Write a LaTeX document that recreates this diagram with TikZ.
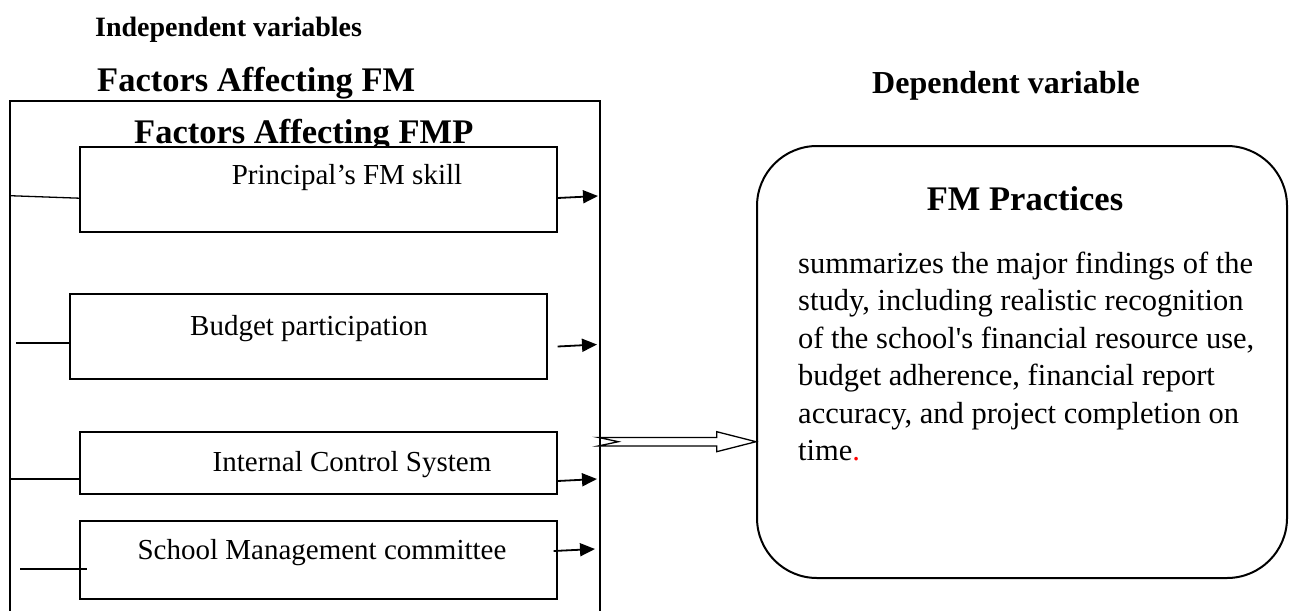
\documentclass[tikz,border=0pt]{standalone}
\usepackage{fontspec}
\setmainfont{Liberation Serif}
\usetikzlibrary{arrows.meta,calc}
\begin{document}
\begin{tikzpicture}[x=1pt,y=-1pt,
  hdr/.style={font=\bfseries\fontsize{34.5}{40}\selectfont, inner sep=0},
  lbl/.style={font=\fontsize{29}{34}\selectfont, inner sep=0, anchor=base},
  body/.style={font=\fontsize{30.5}{36}\selectfont, inner sep=0, anchor=base west},
  fbox/.style={draw, fill=white, line width=1.3, inner sep=0, minimum width=477},
  arr/.style={line width=1.8, -{Triangle[length=15pt,width=13pt]}},
  lin/.style={line width=1.3}]
\useasboundingbox (0,0) rectangle (1289,610);
% headings
\node[font=\bfseries\fontsize{28}{33}\selectfont, inner sep=0, anchor=base west] (iv) at (95,37) {Independent variables};
\node[hdr, anchor=base west] (fam) at (97,91) {Factors Affecting FM};
\node[font=\bfseries\fontsize{32}{37}\selectfont, inner sep=0, anchor=base west] (dv) at (872,93) {Dependent variable};
% outer frame
\node[draw, line width=1.4, minimum width=590, minimum height=540, inner sep=0] (outer) at (305,371) {};
\node[hdr, anchor=base west] (famp) at (134,143) {Factors Affecting FMP};
% factor boxes
\node[fbox, minimum height=85] (p1) at (318.5,189.5) {};
\node[fbox, minimum height=85] (p2) at (308.5,336.5) {};
\node[fbox, minimum height=62] (p3) at (318.5,463) {};
\node[fbox, minimum height=78] (p4) at (318.5,560) {};
\node[lbl] (t1) at (347,184) {Principal’s FM skill};
\node[lbl] (t2) at (309,335) {Budget participation};
\node[lbl] (t3) at (352,471) {Internal Control System};
\node[lbl] (t4) at (322,559) {School Management committee};
% left lines
\coordinate (l1) at (10,195.7);
\coordinate (l2) at (16,343);
\coordinate (l3) at (10,479);
\coordinate (l4) at (20,569);
\draw[lin] (l1) -- ($(p1.west|-l1)+(0,2.5)$);
\draw[lin] (l2) -- (p2.west|-l2);
\draw[lin] (l3) -- (p3.west|-l3);
\draw[lin] (l4) -- ($(p4.west|-l4)+(8,0)$);
% right arrows
\coordinate (r1) at (598,196);
\coordinate (r2) at (597,344.5);
\coordinate (r3) at (597,479);
\coordinate (r4) at (595,549);
\draw[arr] ($(p1.east|-r1)+(0,2)$) -- (r1);
\draw[arr] ($(p2.east|-r2)+(10,2)$) -- (r2);
\draw[arr] ($(p3.east|-r3)+(0,2)$) -- (r3);
\draw[arr] ($(p4.east|-r4)+(-4,2)$) -- (r4);
% dependent box
\node[draw, line width=2, rounded corners=60, minimum width=530, minimum height=432, inner sep=0] (dep) at (1022,362) {};
\node[hdr, anchor=base] (fmp) at (1025,210) {FM Practices};
\node[body] (b1) at (798,273) {summarizes the major findings of the};
\node[body] (b2) at (798,310.5) {study, including realistic recognition};
\node[body] (b3) at (798,348) {of the school\textquotesingle s financial resource use,};
\node[body] (b4) at (798,385.5) {budget adherence, financial report};
\node[body] (b5) at (798,423) {accuracy, and project completion on};
\node[body] (b6) at (798,460.5) {time\textcolor{red}{.}};
% double arrow
\coordinate (da) at (598.3,441.7);
\coordinate (db) at (dep.west|-da);
\draw[line width=1.3, fill=white, line join=miter]
  ($(da)+(0,-4.3)$) -- ($(db)+(-39.3,-4.3)$) -- ($(db)+(-39.3,-10)$) -- (db)
  -- ($(db)+(-39.3,10)$) -- ($(db)+(-39.3,4.3)$) -- ($(da)+(0,4.3)$)
  -- ($(da)+(20,0)$) -- cycle;
\end{tikzpicture}
\end{document}
